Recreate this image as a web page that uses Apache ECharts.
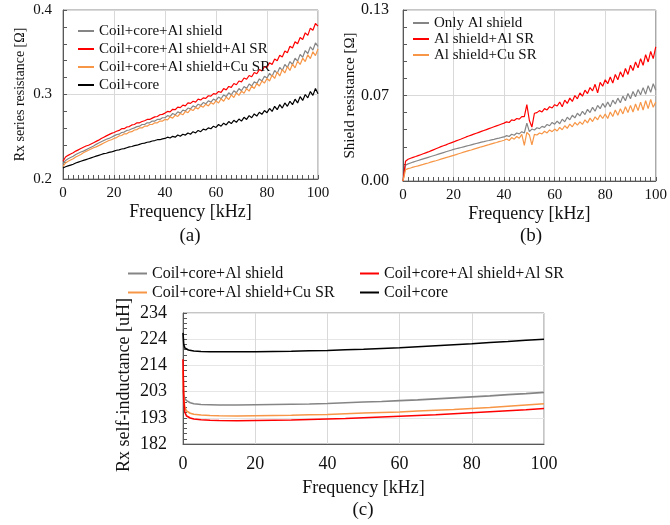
<!DOCTYPE html>
<html>
<head>
<meta charset="utf-8">
<script src="https://cdn.jsdelivr.net/npm/echarts@6/dist/echarts.min.js"></script>
<style>
  html, body { margin: 0; padding: 0; background: #fff; }
  #chart { width: 670px; height: 525px; }
</style>
</head>
<body>
<div id="chart"></div>
<script>
// Frequency sweep (kHz) for the resistance measurements, 1 kHz steps
const freqKHz = Array.from({ length: 101 }, (_, i) => i);

// (a) Rx series resistance, mOhm
const rxAlShield = [218,222,224,225.5,227,229,230.5,232,233,234.5,236,237.5,239,241,242.5,244,245.5,247,248,249.5,251,
  252.5,253,255,255.5,257.5,258,259.5,260.5,262,262.5,264.5,264.5,266.5,266.5,268.5,268.5,270.5,270.5,272.5,272.5,
  275,274,277.5,276,279.5,278,281.5,280.5,284,283,286.5,285,288.5,287,290.5,289,292.5,291,294.5,293,
  297,295,299.5,297.5,302,299.5,304.5,302,307,304.5,309.5,307,312.5,310,315,313,318.5,316,321.5,319.5,
  325,321.5,328.5,325,332,328.5,335.5,332,339,335.5,343,339.5,347.5,344,352,348.5,356.5,352.5,361,357];
const rxAlShieldAlSR = [221,226,228,229.5,231,233,234.5,236,237.5,239,240,241.5,243,244.5,246,248,249.5,251,252.5,254,255,
  256.5,257.5,259.5,259.5,261.5,262,264,264.5,266.5,266.5,268,269,270.5,270.5,272,273.5,274,276,276.5,278,
  280,279.5,282.5,282,285,284.5,287.5,286.5,290,289.5,292,291,294.5,293.5,296,295.5,298.5,298,301,300.5,
  303.5,302.5,307,305.5,309.5,308.5,313,311.5,316,315,319.5,318,322.5,321,326,324.5,329.5,328,333,332,
  337.5,335.5,342,340,346.5,344.5,351.5,349.5,357,355,362.5,360,367.5,365,373,370,378.5,376,384,381];
const rxAlShieldCuSR = [215,219,221,222.5,224,226,227.5,229,231,232.5,234,235.5,237,238,239.5,241,242.5,244,245.5,246.5,248,
  249,251,251.5,253.5,253.5,255.5,256,258,258.5,260.5,260.5,262.5,262.5,264.5,264.5,266.5,266.5,268.5,268.5,270.5,
  270,273.5,272,275.5,274,277.5,276,280,278.5,282.5,281,284.5,283,286.5,285,288.5,286.5,290.5,288.5,292.5,
  290,295,292,297,294,299.5,296.5,302,299,304,301.5,307,304,310,307,313,310,316,313.5,319,
  316,323,319,326.5,322,329.5,325.5,333,328.5,336,331.5,339.5,335.5,343,339,347,342.5,350.5,346,354];
const rxCoilCore = [213,214.5,215.5,216.5,217.5,219,220,221,222,223,224,225,226,227,228,229,230,230.5,231.5,232,233,
  234,234.5,235.5,236,237,238,238.5,239.5,240,241,242,242.5,243.5,244,245,245.5,246.5,246.5,247.5,248,
  249.5,248.5,250.5,249.5,252,250.5,253,252,254.5,253,256,254.5,257.5,256,259,258,260.5,259.5,262.5,261,
  264.5,262.5,266,264,268,265.5,269.5,267,271,268.5,273,270.5,275,272.5,277,274.5,279,276.5,281,278.5,
  283.5,280,286,282,288,284,290,286,292,288,294.5,290,297.5,293,300,296,303.5,299,307,301];

// (b) Shield resistance, mOhm
const shOnlyAl = [0,12,13,13.7,14.4,15,15.6,16.2,16.8,17.4,18,18.6,19.2,19.8,20.4,21,21.6,22.2,22.8,23.4,24,
  24.5,25,25.5,26,26.5,27,27.5,28,28.5,29,29.5,29.9,30.4,30.8,31.3,31.7,32.2,32.6,33.1,33.5,
  34.5,33.8,35.5,34.8,36.5,35.8,37.5,36.5,44,37.5,39.5,38.8,40.5,39.8,41.5,40.8,43,42,44.5,43.2,
  45.5,43.5,47,45,48.5,46.5,50,48,51.5,49.5,53,50.5,54.5,52,56,53,57.5,55,59,56,
  60,56.5,61.5,58.5,63,59.5,64.5,61,66.5,62.5,68,64,69.5,65.5,71,66,72.5,67.5,74,69];
const shAlSR = [0,15,16.5,17.3,18,18.6,19.3,20,20.7,21.4,22.1,22.9,23.7,24.5,25.3,26.1,26.8,27.5,28.3,29,29.7,
  30.5,31.2,31.9,32.7,33.5,34.2,34.9,35.6,36.3,37,37.7,38.4,39.1,39.8,40.5,41.2,41.9,42.6,43.3,44,
  45,44.5,46.5,46,47.5,47,49,49,58,46,41,51.5,52,53.5,52.5,55,54,56.5,55.5,58,57,
  60,56.5,61.5,59,63,60.5,65,62.5,67,64.5,69,66.5,71,68.5,73.5,67,75,72,77,74,
  79,74.5,81,77,83,79,85.5,81,88,84,90.5,86,93,88,96,90.5,98.5,93,102,97];
const shCuSR = [0,8.5,9.4,9.9,10.5,11,11.5,12.1,12.6,13.2,13.7,14.3,14.9,15.4,16,16.6,17.2,17.8,18.3,18.9,19.5,
  20.1,20.7,21.3,21.9,22.5,23.1,23.6,24.2,24.8,25.4,26,26.5,27.1,27.6,28.2,28.8,29.3,29.9,30.4,31,
  32,30.8,33,31.8,33.8,32.5,35.5,27,37,35,27.5,35.5,35,36.5,35.8,37.8,36.5,38.8,37.5,39.5,
  38,40.8,39,42,40,43.3,41.2,44.5,42.5,45,43,46.5,44.2,47.8,45.2,48.8,46.5,50.2,47.5,51,
  47.5,52.5,49,54,50,55,51,56.5,52,57.5,52.5,58.5,53.5,60,54,61,55,62,56,60];

// (c) Rx self-inductance, uH
const freqL = [0,0.2,0.5,1,1.5,2,3,5,7.5,10,15,20,25,30,35,40,45,50,55,60,65,70,75,80,85,90,95,100];
const lAlShield = [204,202,200.5,199.6,199.1,198.8,198.4,198.1,198,197.9,197.9,198,198.1,198.2,198.3,198.5,198.8,199.1,199.3,199.6,199.9,200.3,200.7,201.1,201.5,202,202.4,202.9];
const lAlShieldAlSR = [216,200,195,193.5,193,192.7,192.3,192,191.8,191.7,191.6,191.7,191.8,191.9,192.1,192.3,192.5,192.8,193.1,193.4,193.7,194,194.4,194.8,195.2,195.6,196,196.5];
const lAlShieldCuSR = [212,201,197,195.5,195,194.6,194.2,193.9,193.7,193.6,193.5,193.6,193.7,193.8,194,194.1,194.4,194.7,194.9,195.1,195.5,195.8,196.1,196.5,196.9,197.4,197.9,198.4];
const lCoilCore = [226.5,222,220.5,220,219.7,219.5,219.3,219.1,219,219,219,219,219.1,219.2,219.4,219.5,219.8,220,220.3,220.6,221,221.4,221.8,222.2,222.7,223.1,223.6,224];

// Legend names
const nameA = ['Coil+core+Al shield', 'Coil+core+Al shield+Al SR', 'Coil+core+Al shield+Cu SR', 'Coil+core'];
const nameB = ['Only Al shield', 'Al shield+Al SR', 'Al shield+Cu SR'];

const FONT = 'Liberation Serif';
const TXT = '#111';
const AXIS = '#595959';
const GRIDLINE = '#d9d9d9';
const colGray = '#858585', colRed = '#ff0000', colOrange = '#f79646', colBlack = '#000000';

const pairs = (xs, ys, k) => xs.map((x, i) => [x, ys[i] * k]);

function xAxisFor(gridIndex, opts) {
  return Object.assign({
    type: 'value', gridIndex, min: 0, max: 100, interval: 20,
    axisLine: { lineStyle: { color: AXIS, width: 1 } },
    axisTick: { show: true, inside: true, length: 4, lineStyle: { color: AXIS } },
    minorTick: { show: true, splitNumber: 10, length: 4, lineStyle: { color: AXIS } },
    splitLine: { show: true, lineStyle: { color: GRIDLINE, width: 1 } },
    axisLabel: { color: TXT, fontFamily: FONT, fontSize: 15, margin: 7 },
    name: 'Frequency [kHz]', nameLocation: 'middle', nameGap: 24,
    nameTextStyle: { color: TXT, fontFamily: FONT, fontSize: 18 }
  }, opts || {});
}

function yAxisFor(gridIndex, opts) {
  return Object.assign({
    type: 'value', gridIndex,
    axisLine: { show: true, lineStyle: { color: AXIS, width: 1 } },
    axisTick: { show: true, inside: true, length: 4, lineStyle: { color: AXIS } },
    minorTick: { show: true, splitNumber: 5, length: 4, lineStyle: { color: AXIS } },
    splitLine: { show: true, lineStyle: { color: GRIDLINE, width: 1 } },
    nameLocation: 'middle'
  }, opts);
}

function line(name, data, color, xi, width) {
  return {
    type: 'line', name, data, xAxisIndex: xi, yAxisIndex: xi,
    showSymbol: false, symbol: 'none', silent: true,
    lineStyle: { color, width }, itemStyle: { color }
  };
}

function legendBox(left, top, names, fontSize, lh, w) {
  return {
    left, top, orient: 'vertical', data: names, icon: 'rect',
    itemWidth: w, itemHeight: 2, itemGap: 0, padding: 0,
    selectedMode: false,
    textStyle: { color: TXT, fontFamily: FONT, fontSize, lineHeight: lh }
  };
}

function caption(text, x, y, size, rotation) {
  return {
    type: 'text', x, y, rotation: rotation || 0, silent: true,
    style: { text, align: 'center', verticalAlign: 'middle', fontSize: size, fontFamily: FONT, fill: TXT }
  };
}

const chart = echarts.init(document.getElementById('chart'), null, { renderer: 'canvas' });

chart.setOption({
  animation: false,
  backgroundColor: '#ffffff',
  grid: [
    { left: 63, top: 10, width: 255, height: 169, show: true, borderColor: '#8c8c8c', borderWidth: 1 },
    { left: 403, top: 10, width: 256, height: 171, show: true, borderColor: '#8c8c8c', borderWidth: 1 },
    { left: 183, top: 313, width: 361, height: 131, show: true, borderColor: '#8c8c8c', borderWidth: 1 }
  ],
  xAxis: [
    xAxisFor(0),
    xAxisFor(1),
    xAxisFor(2, {
      axisTick: { show: false }, minorTick: { show: false },
      axisLabel: { color: TXT, fontFamily: FONT, fontSize: 18, margin: 11 },
      nameGap: 35
    })
  ],
  yAxis: [
    yAxisFor(0, {
      min: 0.2, max: 0.4, interval: 0.1,
      axisLabel: { color: TXT, fontFamily: FONT, fontSize: 15, margin: 11 },
      name: 'Rx series resistance [Ω]', nameGap: 36,
      nameTextStyle: { color: TXT, fontFamily: FONT, fontSize: 14 }
    }),
    yAxisFor(1, {
      min: 0, max: 0.13, interval: 0.065,
      axisLabel: { color: TXT, fontFamily: FONT, fontSize: 16, margin: 14,
        formatter: v => (Math.round(v * 100) / 100).toFixed(2) },
      name: 'Shield resistance [Ω]', nameGap: 45,
      nameTextStyle: { color: TXT, fontFamily: FONT, fontSize: 15 }
    }),
    yAxisFor(2, {
      min: 182.4, max: 234.4, interval: 10.4,
      axisLabel: { color: TXT, fontFamily: FONT, fontSize: 18, margin: 16,
        formatter: v => String(Math.round(v)) },
      splitLine: { show: true, lineStyle: { color: '#e6e6e6', width: 1 } }
    })
  ],
  legend: [
    legendBox(78, 22, nameA, 15, 18, 16),
    legendBox(413, 15, nameB, 15, 16, 16),
    legendBox(128, 264, [nameA[0], nameA[2]], 16, 19, 19),
    legendBox(360, 264, [nameA[1], nameA[3]], 16, 19, 19)
  ],
  graphic: [
    caption('(a)', 190, 236, 19),
    caption('(b)', 531, 236, 19),
    caption('(c)', 363, 510, 19),
    caption('Rx self-inductance [uH]', 124, 385, 18, Math.PI / 2)
  ],
  series: [
    line(nameA[0], pairs(freqKHz, rxAlShield, 0.001), colGray, 0, 1.2),
    line(nameA[1], pairs(freqKHz, rxAlShieldAlSR, 0.001), colRed, 0, 1.2),
    line(nameA[2], pairs(freqKHz, rxAlShieldCuSR, 0.001), colOrange, 0, 1.2),
    line(nameA[3], pairs(freqKHz, rxCoilCore, 0.001), colBlack, 0, 1.2),

    line(nameB[0], pairs(freqKHz, shOnlyAl, 0.001), colGray, 1, 1.2),
    line(nameB[1], pairs(freqKHz, shAlSR, 0.001), colRed, 1, 1.2),
    line(nameB[2], pairs(freqKHz, shCuSR, 0.001), colOrange, 1, 1.2),

    line(nameA[3], pairs(freqL, lCoilCore, 1), colBlack, 2, 1.6),
    line(nameA[0], pairs(freqL, lAlShield, 1), colGray, 2, 1.6),
    line(nameA[2], pairs(freqL, lAlShieldCuSR, 1), colOrange, 2, 1.6),
    line(nameA[1], pairs(freqL, lAlShieldAlSR, 1), colRed, 2, 1.6)
  ]
});
</script>
</body>
</html>
